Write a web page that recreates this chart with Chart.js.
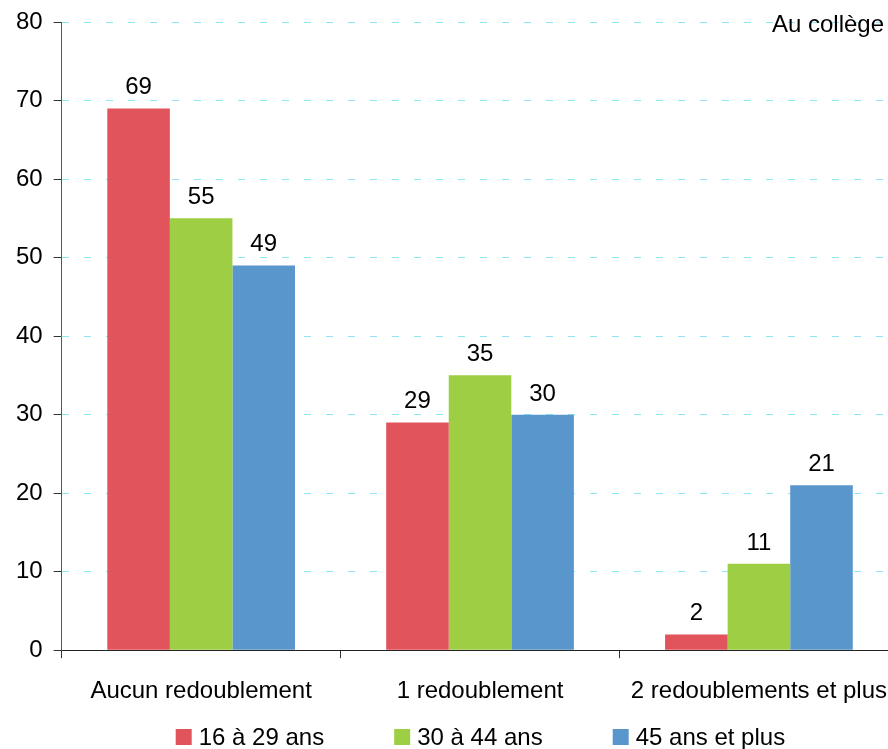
<!DOCTYPE html>
<html>
<head>
<meta charset="utf-8">
<script src="https://cdn.jsdelivr.net/npm/chart.js@4/dist/chart.umd.min.js"></script>
<style>
  html, body { margin: 0; padding: 0; background: #fff; overflow: hidden; }
  #wrap { width: 906px; height: 749px; }
</style>
</head>
<body>
<div id="wrap"><canvas id="chart" width="906" height="749"></canvas></div>
<script>
const categories = ['Aucun redoublement', '1 redoublement', '2 redoublements et plus'];
const seriesNames = ['16 à 29 ans', '30 à 44 ans', '45 ans et plus'];
const young = [69, 29, 2];
const middle = [55, 35, 11];
const older = [49, 30, 21];
const colors = ['#E2545C', '#9ECE43', '#5996CC'];
const yTicks = [0, 10, 20, 30, 40, 50, 60, 70, 80];
const cornerNote = 'Au collège';

const FONT = 'Liberation Sans, Arial, sans-serif';

// valeurs au-dessus des barres
const valueLabels = {
  id: 'valueLabels',
  afterDatasetsDraw(chart) {
    const ctx = chart.ctx;
    ctx.save();
    ctx.font = '24px ' + FONT;
    ctx.fillStyle = '#000';
    ctx.textAlign = 'center';
    ctx.textBaseline = 'alphabetic';
    chart.data.datasets.forEach((ds, i) => {
      chart.getDatasetMeta(i).data.forEach((bar, j) => {
        ctx.fillText(String(ds.data[j]), bar.x, bar.y - 14);
      });
    });
    ctx.restore();
  },
};

// légende en bas + note en haut à droite
const extras = {
  id: 'extras',
  afterDraw(chart) {
    const ctx = chart.ctx;
    const area = chart.chartArea;
    ctx.save();
    ctx.font = '24px ' + FONT;
    ctx.fillStyle = '#000';
    ctx.textAlign = 'right';
    ctx.textBaseline = 'alphabetic';
    ctx.fillText(cornerNote, 884, area.top + 10);

    ctx.textAlign = 'left';
    chart.data.datasets.forEach((ds, i) => {
      const x = area.left + 114 + i * 218.5;
      ctx.fillStyle = ds.backgroundColor;
      ctx.fillRect(x, 729, 16, 16);
      ctx.fillStyle = '#000';
      ctx.fillText(ds.label, x + 23, 745);
    });
    ctx.restore();
  },
};

const datasets = [young, middle, older].map((data, i) => ({
  label: seriesNames[i],
  data,
  backgroundColor: colors[i],
  borderWidth: 0,
  categoryPercentage: 0.673,
  barPercentage: 1,
}));

new Chart(document.getElementById('chart').getContext('2d'), {
  type: 'bar',
  data: { labels: categories, datasets },
  options: {
    responsive: false,
    animation: false,
    layout: { padding: { left: 5, right: 0, top: 0, bottom: 24 } },
    plugins: {
      legend: { display: false },
      tooltip: { enabled: false },
    },
    scales: {
      x: {
        grid: {
          display: true,
          drawOnChartArea: false,
          drawTicks: true,
          tickLength: 8,
          tickColor: '#333',
          offset: true,
        },
        border: { display: true, color: '#222', width: 1 },
        ticks: { font: { size: 24, family: FONT }, color: '#000', padding: 19, maxRotation: 0 },
      },
      y: {
        min: 0,
        max: 80,
        afterBuildTicks: (scale) => { scale.ticks = yTicks.map(v => ({ value: v })); },
        grid: {
          color: '#8EE6F4',
          lineWidth: 1,
          drawTicks: true,
          tickLength: 8,
          tickColor: '#333',
        },
        border: { display: true, color: '#555', width: 1, dash: [7, 15] },
        ticks: { font: { size: 24, family: FONT, lineHeight: 0.917 }, color: '#000', padding: 11 },
      },
    },
  },
  plugins: [valueLabels, extras],
});
</script>
</body>
</html>
